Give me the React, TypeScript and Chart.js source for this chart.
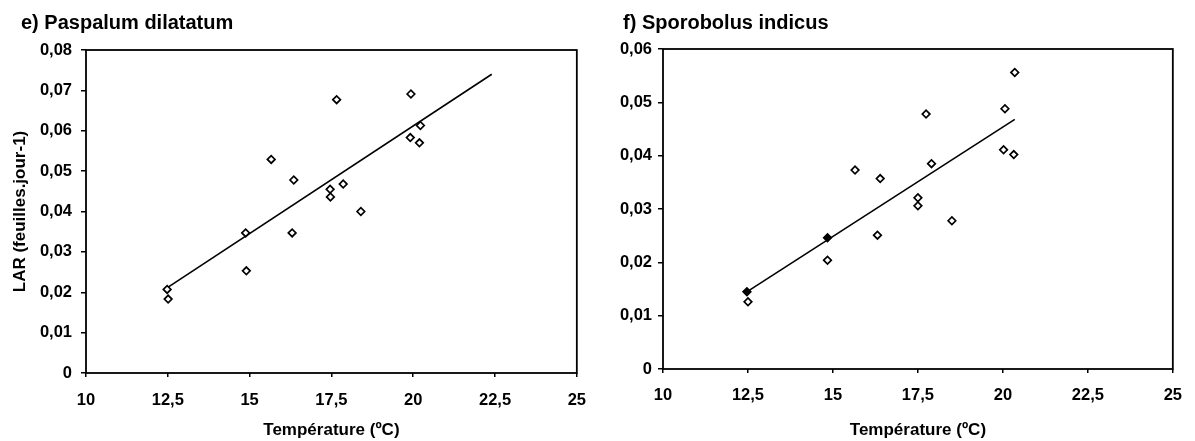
import React, { useEffect, useRef } from 'react';
import { Chart, registerables } from 'chart.js';

Chart.register(...registerables);

// ---------- data ----------
const xTickValues = [10, 12.5, 15, 17.5, 20, 22.5, 25];

const leftTitle = 'e) Paspalum dilatatum';
const leftTemps = [17.66, 19.93, 20.22, 19.91, 20.19, 15.66, 16.35, 17.46, 17.47, 17.86, 18.4, 16.3, 14.88, 14.9, 12.48, 12.51];
const leftLAR = [0.0677, 0.0691, 0.0613, 0.0583, 0.057, 0.0529, 0.0478, 0.0455, 0.0436, 0.0468, 0.04, 0.0347, 0.0347, 0.0253, 0.0207, 0.0183];
const leftTrendTemps = [12.5, 22.4];
const leftTrendLAR = [0.0212, 0.074];
const leftYMax = 0.08;

const rightTitle = 'f) Sporobolus indicus';
const rightTemps = [20.35, 20.06, 17.74, 20.02, 20.32, 17.9, 15.65, 16.39, 17.5, 17.5, 18.5, 16.31, 14.84, 14.84, 12.47, 12.5];
const rightLAR = [0.0556, 0.0488, 0.0478, 0.0411, 0.0402, 0.0385, 0.0373, 0.0357, 0.0321, 0.0306, 0.0278, 0.0251, 0.0246, 0.0204, 0.0145, 0.0126];
const rightTrendTemps = [12.5, 20.35];
const rightTrendLAR = [0.0146, 0.0468];
const rightYMax = 0.06;

const xAxisTitle = 'Température (ºC)';
const yAxisTitle = 'LAR (feuilles.jour-1)';

// ---------- helpers ----------
const FONT = "'Liberation Sans', Arial, sans-serif";
const fmt = (v: number) => (v === 0 ? '0' : String(parseFloat(v.toFixed(3))).replace('.', ','));

const framePlugin = {
  id: 'frame',
  afterDraw(chart: any) {
    const { ctx, chartArea } = chart;
    ctx.save();
    ctx.strokeStyle = '#000';
    ctx.lineWidth = 1.8;
    ctx.strokeRect(chartArea.left, chartArea.top, chartArea.right - chartArea.left, chartArea.bottom - chartArea.top);
    ctx.restore();
  },
};

interface PanelProps {
  temps: number[];
  lar: number[];
  trendT: number[];
  trendV: number[];
  yMax: number;
  filled: number[];
  yWidth: number;
  xHeight: number;
  padTop: number;
  padRight: number;
  showYTitle: boolean;
  yTickPad: number;
  xTickPad: number;
  width: number;
}

function Panel(p: PanelProps) {
  const ref = useRef<HTMLCanvasElement | null>(null);
  useEffect(() => {
    if (!ref.current) return;
    const pts = p.temps.map((t, i) => ({ x: t, y: p.lar[i] }));
    const trend = p.trendT.map((t, i) => ({ x: t, y: p.trendV[i] }));
    const chart = new Chart(ref.current, {
      type: 'scatter',
      data: {
        datasets: [
          {
            type: 'scatter',
            data: pts,
            pointStyle: 'rectRot',
            pointRadius: 3.8,
            pointBorderWidth: 1.7,
            borderColor: '#000',
            pointBackgroundColor: pts.map((_, i) => (p.filled.includes(i) ? '#000' : '#fff')),
          } as any,
          {
            type: 'line',
            data: trend,
            showLine: true,
            borderColor: '#000',
            borderWidth: 1.6,
            pointRadius: 0,
            fill: false,
          } as any,
        ],
      },
      options: {
        responsive: false,
        animation: false,
        layout: { padding: { top: p.padTop, right: p.padRight, left: 0, bottom: 0 } },
        plugins: { legend: { display: false }, tooltip: { enabled: false }, title: { display: false } },
        scales: {
          x: {
            type: 'linear',
            min: 10,
            max: 25,
            afterBuildTicks: (scale: any) => {
              scale.ticks = xTickValues.map((v) => ({ value: v }));
            },
            afterFit: (scale: any) => {
              scale.height = p.xHeight;
            },
            ticks: {
              callback: (v: any) => fmt(Number(v)),
              color: '#000',
              font: { family: FONT, size: 16.5, weight: 'bold' },
              padding: p.xTickPad,
              maxRotation: 0,
              autoSkip: false,
            },
            grid: { display: true, drawOnChartArea: false, drawTicks: true, tickLength: 4, color: '#000', lineWidth: 1.5 },
            border: { display: false },
            title: {
              display: true,
              text: xAxisTitle,
              color: '#000',
              font: { family: FONT, size: 17, weight: 'bold' },
              padding: { top: 0, bottom: 0 },
            },
          },
          y: {
            type: 'linear',
            min: 0,
            max: p.yMax,
            ticks: {
              stepSize: 0.01,
              callback: (v: any) => fmt(Number(v)),
              color: '#000',
              font: { family: FONT, size: 16.5, weight: 'bold' },
              padding: p.yTickPad,
            },
            afterFit: (scale: any) => {
              scale.width = p.yWidth;
            },
            grid: { display: true, drawOnChartArea: false, drawTicks: true, tickLength: 5, color: '#000', lineWidth: 1.5 },
            border: { display: false },
            title: {
              display: p.showYTitle,
              text: yAxisTitle,
              color: '#000',
              font: { family: FONT, size: 17, weight: 'bold' },
              padding: { top: 10, bottom: 0 },
            },
          },
        },
      } as any,
      plugins: [framePlugin],
    });
    return () => chart.destroy();
  }, []);
  return <canvas ref={ref} width={p.width} height={441} style={{ display: 'block' }} />;
}

const titleStyle: React.CSSProperties = {
  position: 'absolute',
  top: 12,
  fontFamily: FONT,
  fontWeight: 'bold',
  fontSize: 20,
  lineHeight: '20px',
  color: '#000',
  whiteSpace: 'nowrap',
};

export default function App() {
  return (
    <div style={{ position: 'fixed', left: 0, top: 0, width: 1195, height: 441, background: '#fff', overflow: 'hidden' }}>
      <div style={{ position: 'absolute', left: 0, top: 0 }}>
        <Panel
          temps={leftTemps}
          lar={leftLAR}
          trendT={leftTrendTemps}
          trendV={leftTrendLAR}
          yMax={leftYMax}
          filled={[]}
          yWidth={86}
          xHeight={68}
          padTop={50}
          padRight={22}
          showYTitle={true}
          yTickPad={9}
          xTickPad={14}
          width={600}
        />
      </div>
      <div style={{ position: 'absolute', left: 600, top: 0 }}>
        <Panel
          temps={rightTemps}
          lar={rightLAR}
          trendT={rightTrendTemps}
          trendV={rightTrendLAR}
          yMax={rightYMax}
          filled={[12, 14]}
          yWidth={63}
          xHeight={72}
          padTop={49}
          padRight={17}
          showYTitle={false}
          yTickPad={6}
          xTickPad={13}
          width={595}
        />
      </div>
      <div style={{ ...titleStyle, left: 21 }}>{leftTitle}</div>
      <div style={{ ...titleStyle, left: 623 }}>{rightTitle}</div>
    </div>
  );
}
